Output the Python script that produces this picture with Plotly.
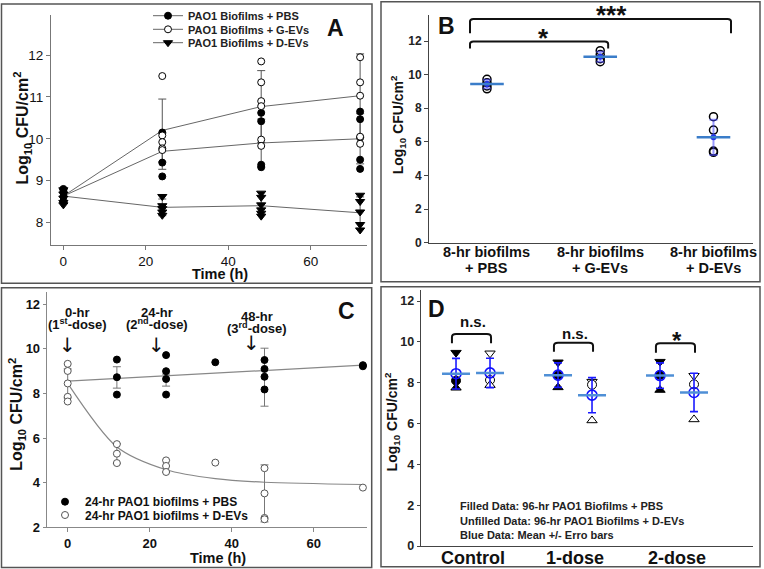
import plotly.graph_objects as go

W, H = 764, 569
H_PAGE = 577  # the photographed page is compressed vertically to 569 px
FONT = "Liberation Sans, Arial, sans-serif"


def fx(p):
    return p / W


def fy(p):
    return 1 - p / H


# ---------------- Panel A data ----------------
a_names = ["PAO1 Biofilms + PBS", "PAO1 Biofilms + G-EVs", "PAO1 Biofilms + D-EVs"]
a_time = [0, 24, 48, 72]
a_mean_pbs = [8.63, 9.70, 9.90, 10.00]
a_err_pbs = [0.15, 0.43, 0.57, 0.60]
a_mean_gev = [8.63, 10.20, 10.77, 11.03]
a_err_gev = [0.15, 0.75, 0.86, 1.00]
a_mean_dev = [8.63, 8.36, 8.40, 8.23]
a_err_dev = [0.15, 0.20, 0.22, 0.38]
a_pbs_t = [0, 0, 0, 0, 24, 24, 24, 48, 48, 48, 48, 72, 72, 72, 72, 72]
a_pbs_v = [8.80, 8.72, 8.62, 8.50, 10.15, 9.43, 9.10, 10.62, 10.42, 9.38, 9.32,
           10.65, 10.47, 10.03, 9.50, 9.28]
a_gev_t = [24, 24, 24, 24, 24, 48, 48, 48, 48, 48, 48, 72, 72, 72, 72, 72]
a_gev_v = [11.50, 10.08, 9.92, 9.77, 9.73, 11.85, 11.35, 10.90, 10.78, 9.98, 9.83,
           11.95, 11.35, 11.03, 10.05, 9.88]
a_dev_t = [0, 0, 0, 0, 0, 24, 24, 24, 24, 24, 48, 48, 48, 48, 48, 48, 72, 72, 72, 72, 72]
a_dev_v = [8.78, 8.68, 8.58, 8.48, 8.42, 8.62, 8.40, 8.33, 8.25, 8.17,
           8.70, 8.60, 8.42, 8.30, 8.22, 8.15, 8.65, 8.50, 8.25, 7.95, 7.82]
a_xticks = [0, 20, 40, 60]
a_yticks = [8, 9, 10, 11, 12]

# ---------------- Panel B data ----------------
b_line1 = ["8-hr biofilms", "8-hr biofilms", "8-hr biofilms"]
b_line2 = ["+ PBS", "+ G-EVs", "+ D-EVs"]
b_pts = [[9.72, 9.52, 9.33, 9.16], [11.43, 11.20, 10.95, 10.77], [7.50, 6.70, 5.45, 5.38]]
b_mean = [9.44, 11.07, 6.27]
b_err = [0.25, 0.30, 1.05]
b_yticks = [0, 2, 4, 6, 8, 10, 12]
b_br_x0 = [-0.15, -0.15]
b_br_x1 = [1.07, 2.155]
b_br_leg = [11.55, 12.46]
b_br_top = [11.97, 13.31]
b_br_text = ["*", "***"]
b_br_text_x = [0.50, 1.10]

# ---------------- Panel C data ----------------
c_names = ["24-hr PAO1 biofilms + PBS", "24-hr PAO1 biofilms + D-EVs"]
c_pbs_t = [12, 12, 12, 24, 24, 24, 24, 36, 48, 48, 48, 48, 72, 72]
c_pbs_v = [9.52, 8.73, 7.95, 9.72, 9.00, 8.65, 7.95, 9.40, 9.50, 9.10, 8.75, 8.18, 9.27, 9.22]
c_dev_t = [0, 0, 0, 0, 0, 12, 12, 12, 24, 24, 24, 36, 48, 48, 48, 48, 72]
c_dev_v = [9.33, 9.01, 8.45, 7.85, 7.64, 5.73, 5.30, 4.88, 5.00, 4.75, 4.48, 4.90,
           4.65, 3.52, 2.42, 2.36, 3.78]
c_fit_pbs_t = [0, 72]
c_fit_pbs_v = [8.55, 9.27]
c_fit_dev_t = [0, 12, 24, 36, 48, 72]
c_fit_dev_v = [8.45, 5.60, 4.58, 4.18, 4.02, 3.92]
c_err_pbs_t = [12, 24, 48]
c_err_pbs_m = [8.72, 8.60, 8.73]
c_err_pbs_e = [0.48, 0.27, 1.30]
c_err_dev_t = [0, 12, 24, 48]
c_err_dev_m = [8.45, 5.30, 4.74, 3.52]
c_err_dev_e = [0.65, 0.45, 0.27, 1.28]
c_xticks = [0, 20, 40, 60]
c_yticks = [2, 4, 6, 8, 10, 12]
c_dose_l1 = ["0-hr", "24-hr", "48-hr"]
c_dose_l2 = ["(1<sup>st</sup>-dose)", "(2<sup>nd</sup>-dose)", "(3<sup>rd</sup>-dose)"]
c_dose_text_x = [2.3, 21.8, 46.1]
c_dose_arrow_x = [0, 21.7, 44.9]

# ---------------- Panel D data ----------------
d_groups = ["Control", "1-dose", "2-dose"]
d_fill_down = [9.47, 9.00, 9.03]
d_fill_circ = [8.10, 8.35, 8.38]
d_fill_up = [7.75, 7.77, 7.64]
d_open_down = [9.44, 8.05, 8.34]
d_open_circ = [8.13, 7.90, 7.92]
d_open_up = [7.88, 6.15, 6.20]
d_fill_mean = [8.44, 8.37, 8.35]
d_fill_err = [0.75, 0.60, 0.62]
d_open_mean = [8.48, 7.39, 7.52]
d_open_err = [0.72, 0.86, 0.94]
d_yticks = [0, 2, 4, 6, 8, 10, 12]
d_br_leg = [9.93, 9.52, 9.47]
d_br_top = [10.38, 9.96, 9.93]
d_br_text = ["n.s.", "n.s.", "*"]
d_notes = ["Filled Data: 96-hr PAO1 Biofilms + PBS",
           "Unfilled Data: 96-hr PAO1 Biofilms + D-EVs",
           "Blue Data: Mean +/- Erro bars"]

YTITLE = "Log<sub>10</sub> CFU/cm<sup>2</sup>"

fig = go.Figure()

# ================= Panel A =================
LC = "#666666"
a_series = [
    (a_mean_pbs, a_err_pbs, a_pbs_t, a_pbs_v, dict(symbol="circle", size=7, color="black", line=dict(color="black", width=1))),
    (a_mean_gev, a_err_gev, a_gev_t, a_gev_v, dict(symbol="circle", size=7, color="white", line=dict(color="black", width=1))),
    (a_mean_dev, a_err_dev, a_dev_t, a_dev_v, dict(symbol="triangle-down", size=8, color="black", line=dict(color="black", width=1))),
]
for i, (m, e, pt, pv, mk) in enumerate(a_series):
    fig.add_trace(go.Scatter(x=a_time, y=m, mode="lines", line=dict(color=LC, width=1),
                             error_y=dict(type="data", array=e, color="#555", thickness=1, width=4),
                             xaxis="x", yaxis="y", showlegend=False, hoverinfo="skip"))
for i, (m, e, pt, pv, mk) in enumerate(a_series):
    fig.add_trace(go.Scatter(x=pt, y=pv, mode="markers", marker=mk, xaxis="x", yaxis="y",
                             showlegend=False, cliponaxis=False))
for i, (m, e, pt, pv, mk) in enumerate(a_series):
    fig.add_trace(go.Scatter(x=[None], y=[None], mode="lines+markers", name=a_names[i],
                             line=dict(color=LC, width=1), marker=mk, xaxis="x", yaxis="y",
                             legend="legend" if i == 0 else "legend%d" % (i + 1)))

# ================= Panel B =================
b_x = list(range(len(b_mean)))
for i, vals in enumerate(b_pts):
    fig.add_trace(go.Scatter(x=[b_x[i]] * len(vals), y=vals, mode="markers",
                             marker=dict(symbol="circle-open", size=8, color="black", line=dict(width=1.5)),
                             xaxis="x2", yaxis="y2", showlegend=False))
fig.add_trace(go.Scatter(x=b_x, y=b_mean, mode="markers",
                         marker=dict(symbol="circle", size=6, color="#2233ee"),
                         error_y=dict(type="data", array=b_err, color="rgba(70,70,255,0.55)", thickness=2, width=4),
                         xaxis="x2", yaxis="y2", showlegend=False))
fig.add_trace(go.Scatter(x=b_x, y=b_mean, mode="markers",
                         marker=dict(symbol="line-ew", size=24, line=dict(color="#3a7dc9", width=2.5)),
                         xaxis="x2", yaxis="y2", showlegend=False))

# ================= Panel C =================
fig.add_trace(go.Scatter(x=c_fit_pbs_t, y=c_fit_pbs_v, mode="lines", line=dict(color="#888", width=1.2),
                         xaxis="x3", yaxis="y3", showlegend=False, hoverinfo="skip"))
fig.add_trace(go.Scatter(x=c_fit_dev_t, y=c_fit_dev_v, mode="lines", line=dict(color="#888", width=1.2, shape="spline", smoothing=0.8),
                         xaxis="x3", yaxis="y3", showlegend=False, hoverinfo="skip"))
fig.add_trace(go.Scatter(x=c_err_pbs_t, y=c_err_pbs_m, mode="markers", marker=dict(size=1, color="rgba(0,0,0,0)"),
                         error_y=dict(type="data", array=c_err_pbs_e, color="#777", thickness=1, width=4),
                         xaxis="x3", yaxis="y3", showlegend=False, hoverinfo="skip"))
fig.add_trace(go.Scatter(x=c_err_dev_t, y=c_err_dev_m, mode="markers", marker=dict(size=1, color="rgba(0,0,0,0)"),
                         error_y=dict(type="data", array=c_err_dev_e, color="#777", thickness=1, width=4),
                         xaxis="x3", yaxis="y3", showlegend=False, hoverinfo="skip"))
fig.add_trace(go.Scatter(x=c_pbs_t, y=c_pbs_v, mode="markers", name=c_names[0],
                         marker=dict(symbol="circle", size=7, color="black", line=dict(color="black", width=1)),
                         xaxis="x3", yaxis="y3", legend="legend4", cliponaxis=False))
fig.add_trace(go.Scatter(x=c_dev_t, y=c_dev_v, mode="markers", name=c_names[1],
                         marker=dict(symbol="circle", size=7, color="white", line=dict(color="#555", width=1)),
                         xaxis="x3", yaxis="y3", legend="legend5", cliponaxis=False))

# ================= Panel D =================
OFF = 1 / 6
d_x = [i + 1 for i in range(len(d_groups))]
d_xf = [g - OFF for g in d_x]
d_xo = [g + OFF for g in d_x]
for xs, vals, sym, fill in [
    (d_xf, d_fill_down, "triangle-down", "black"), (d_xf, d_fill_circ, "circle", "black"),
    (d_xf, d_fill_up, "triangle-up", "black"),
    (d_xo, d_open_down, "triangle-down", "white"), (d_xo, d_open_circ, "circle", "white"),
    (d_xo, d_open_up, "triangle-up", "white")]:
    fig.add_trace(go.Scatter(x=xs, y=vals, mode="markers",
                             marker=dict(symbol=sym, size=9, color=fill, line=dict(color="black", width=1)),
                             xaxis="x4", yaxis="y4", showlegend=False))
for xs, m, e in [(d_xf, d_fill_mean, d_fill_err), (d_xo, d_open_mean, d_open_err)]:
    fig.add_trace(go.Scatter(x=xs, y=m, mode="markers",
                             marker=dict(symbol="circle-open", size=10, color="#1010ff", line=dict(width=1.6)),
                             error_y=dict(type="data", array=e, color="#1a1aff", thickness=1.6, width=4),
                             xaxis="x4", yaxis="y4", showlegend=False))
    fig.add_trace(go.Scatter(x=xs, y=m, mode="markers",
                             marker=dict(symbol="line-ew", size=20, line=dict(color="#4f8fd6", width=2.5)),
                             xaxis="x4", yaxis="y4", showlegend=False))

# ================= Axes =================
def tfont(size, bold=False, color="#111"):
    return dict(family=FONT, size=size, color=color, weight="bold" if bold else "normal")


common = dict(showgrid=False, zeroline=False, showline=True, ticks="outside", mirror=False)
fig.update_layout(
    xaxis=dict(domain=[fx(51), fx(366.7)], range=[-3, 73.6], tickvals=a_xticks, ticklen=4,
               linecolor="#777", tickcolor="#777", tickfont=tfont(13.5), anchor="y", **common),
    yaxis=dict(domain=[fy(245), fy(15)], range=[7.46, 12.96], tickvals=a_yticks, ticklen=4,
               linecolor="#777", tickcolor="#777", tickfont=tfont(13.5), anchor="x", **common),
    xaxis2=dict(domain=[fx(429), fx(753)], range=[-0.512, 2.349], showticklabels=False,
                linecolor="#444", anchor="y2", showgrid=False, zeroline=False, showline=True, ticks=""),
    yaxis2=dict(domain=[fy(242.7), fy(15)], range=[0, 13.55], tickvals=b_yticks, ticklen=4,
                linecolor="#444", tickcolor="#444", tickfont=tfont(12, True, "#222"), anchor="x2", **common),
    xaxis3=dict(domain=[fx(46.7), fx(367)], range=[-5.12, 73], tickvals=c_xticks, ticklen=4,
                linecolor="#888", tickcolor="#888", tickfont=tfont(13, True), anchor="y3", **common),
    yaxis3=dict(domain=[fy(527.3), fy(292)], range=[2, 12.55], tickvals=c_yticks, ticklen=3,
                linecolor="#888", tickcolor="#888", tickfont=tfont(13, True), anchor="x3", **common),
    xaxis4=dict(domain=[fx(420.7), fx(753)], range=[0.487, 3.745], showticklabels=False,
                linecolor="#444", anchor="y4", showgrid=False, zeroline=False, showline=True, ticks=""),
    yaxis4=dict(domain=[fy(546), fy(290)], range=[0, 12.54], tickvals=d_yticks, ticklen=3,
                linecolor="#444", tickcolor="#444", tickfont=tfont(12.5, True, "#222"), anchor="x4", **common),
)

# ================= Legends =================
legfont = dict(family=FONT, size=11, color="#222", weight="bold")
for i, yrow in enumerate([15.7, 29.3, 42.7]):
    key = "legend" if i == 0 else "legend%d" % (i + 1)
    fig.layout[key] = dict(x=fx(148), y=fy(yrow), xanchor="left", yanchor="middle",
                           bgcolor="rgba(0,0,0,0)", font=legfont, borderwidth=0)
for i, yrow in enumerate([501.7, 515]):
    key = "legend%d" % (i + 4)
    fig.layout[key] = dict(x=fx(45), y=fy(yrow), xanchor="left", yanchor="middle",
                           bgcolor="rgba(0,0,0,0)", font=dict(family=FONT, size=12, color="#111", weight="bold"),
                           borderwidth=0)

# ================= Shapes =================
shapes = []
for (x0, y0, x1, y1) in [(1.5, 4, 372, 283.3), (381, 1.7, 760, 281.7), (1.5, 287.7, 371.7, 567.5), (381, 286.7, 760, 566.7)]:
    shapes.append(dict(type="rect", xref="paper", yref="paper", x0=fx(x0), x1=fx(x1), y0=fy(y1), y1=fy(y0),
                       line=dict(color="#555", width=1.5)))


def bracket(xr, yr, x0, x1, ylo, yhi, rx, ry):
    p = (f"M{x0},{ylo} L{x0},{yhi - ry} Q{x0},{yhi} {x0 + rx},{yhi} "
         f"L{x1 - rx},{yhi} Q{x1},{yhi} {x1},{yhi - ry} L{x1},{ylo}")
    return dict(type="path", xref=xr, yref=yr, path=p, line=dict(color="#111", width=2))


for i in range(len(b_br_x0)):
    shapes.append(bracket("x2", "y2", b_br_x0[i], b_br_x1[i], b_br_leg[i], b_br_top[i], 0.03, 0.15))
for i in range(len(d_groups)):
    shapes.append(bracket("x4", "y4", d_xf[i] - 0.04, d_xo[i] + 0.01, d_br_leg[i], d_br_top[i], 0.04, 0.15))
fig.update_layout(shapes=shapes)

# ================= Annotations =================
ann = []
DY = 1  # visual centring correction (px)


def txt(text, x, y_px, size, bold=True, xref="paper", angle=0, xanchor="center", color="#111", family=FONT, dy=DY):
    ann.append(dict(text=text, x=x, y=fy(y_px + dy), xref=xref, yref="paper", showarrow=False, textangle=angle,
                    xanchor=xanchor, yanchor="middle",
                    font=dict(family=family, size=size, color=color, weight="bold" if bold else "normal")))


# panel letters
txt("A", fx(335), 26.7, 23)
txt("B", fx(446.7), 25, 23)
txt("C", fx(346.7), 310, 23)
txt("D", fx(436.7), 308, 23)
# axis titles
txt("Time (h)", fx(220), 273, 14.5)
txt(YTITLE, fx(22.5), 128, 16, angle=-90, dy=0)
txt(YTITLE, fx(398.3), 125, 14, angle=-90, dy=0)
txt("Time (h)", fx(218.3), 556.7, 14.5)
txt(YTITLE, fx(16.7), 414, 16, angle=-90, dy=0)
txt(YTITLE, fx(391.7), 421.7, 14, angle=-90, dy=0)
# panel B category labels
for i in range(len(b_x)):
    txt(b_line1[i], b_x[i], 251, 14.5, xref="x2")
    txt(b_line2[i], b_x[i], 267, 14.5, xref="x2")
for i in range(len(b_br_text)):
    txt(b_br_text[i], b_br_text_x[i], [32, 9.5][i], 26, xref="x2", dy=6)
# panel C dose labels
for i in range(len(c_dose_l1)):
    off = [0, 0, 4][i]
    txt(c_dose_l1[i], c_dose_text_x[i], 311.7 + off, 13, xref="x3")
    txt(c_dose_l2[i], c_dose_text_x[i], 323.3 + off * 0.85, 13, xref="x3")
    txt("\u2193", c_dose_arrow_x[i], 344.3 - off * 0.65, 20, bold=False, xref="x3", family="DejaVu Sans")
# panel D labels
for i in range(len(d_groups)):
    txt(d_groups[i], d_x[i], 556.7, 18, xref="x4")
for i in range(len(d_br_text)):
    if d_br_text[i] == "*":
        txt("*", d_x[i], 334, 24, xref="x4", dy=6)
    else:
        txt(d_br_text[i], d_x[i], [320.8, 332.5][i], 15, xref="x4")
for i, yy in enumerate([505, 520, 534]):
    txt(d_notes[i], fx(458), yy, 11, xanchor="left", color="#222")

fig.update_layout(annotations=ann, width=W, height=H_PAGE, margin=dict(l=0, r=0, t=0, b=0),
                  paper_bgcolor="white", plot_bgcolor="white", autosize=False)

post = ("document.documentElement.style.margin='0px';document.body.style.margin='0px';"
        "document.body.style.padding='0px';document.documentElement.style.overflow='hidden';"
        "document.body.style.overflow='hidden';")
fig.write_html("out.html", post_script=post, config={"displayModeBar": False})
